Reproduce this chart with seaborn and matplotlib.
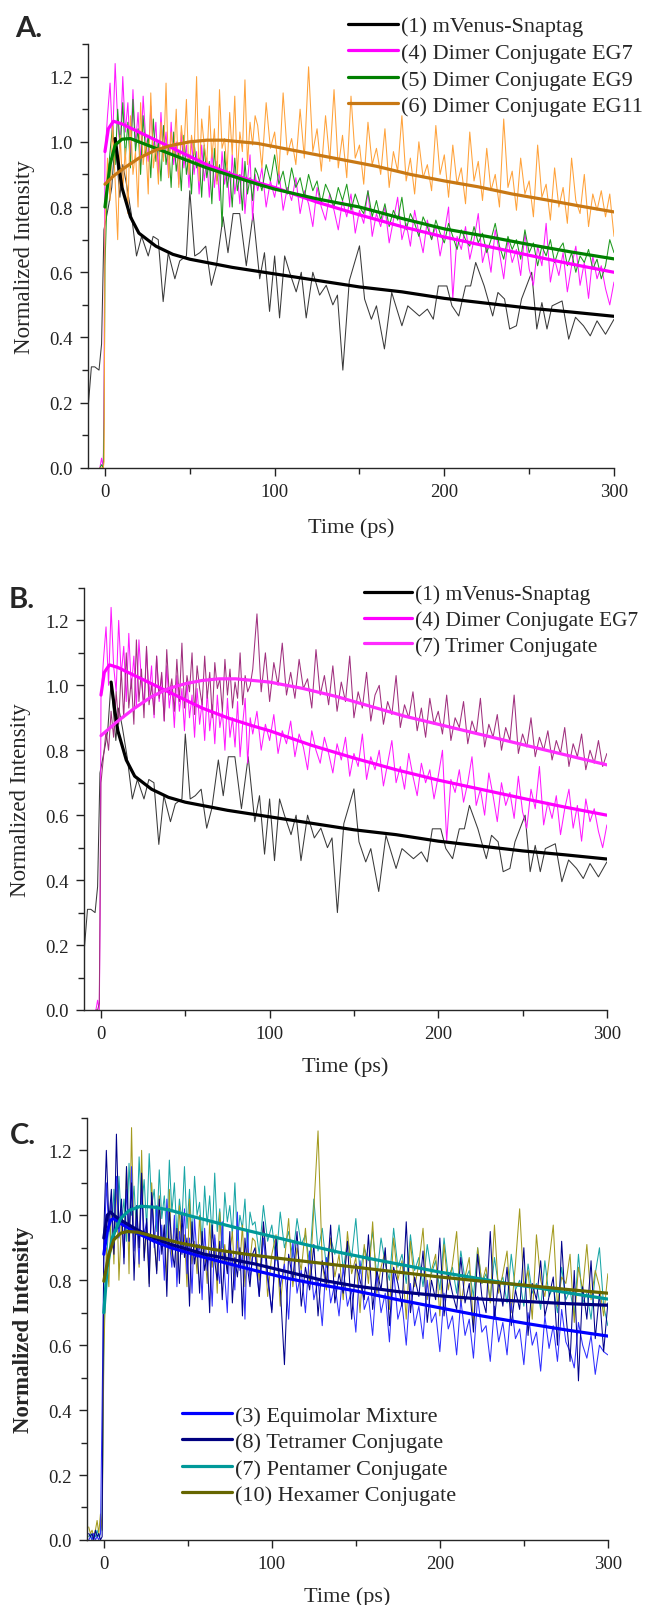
import numpy as np
import matplotlib
matplotlib.use("Agg")
import matplotlib.pyplot as plt
import seaborn as sns
from matplotlib.ticker import MultipleLocator

# ---------------- data ----------------
# raw traces: a few points before t=0, then a fine block (1.5 ps steps from 0)
# and a coarse block (2.5 ps steps from 90 ps)

# (1) mVenus-Snaptag, coarse sampling
blk_t = [-10, -8, -6, -3.5, -2, -0.6, 2, 4, 6, 8.8, 10.5, 12.7, 15.5, 18.6, 21.6, 25.5,
         28.4, 31.4, 34.3, 37.3, 41.2, 44.1, 48, 50, 52.9, 55.9, 59.4, 62.7, 65.7, 69.6,
         72.5, 75.5, 79.4, 83.3, 87.3, 91.2, 94, 97, 100, 102.9, 105.9, 108.8, 112.7,
         115.7, 118.6, 122.5, 126.5, 130.4, 134.3, 137, 140.2, 144, 150, 153, 157, 160,
         164.7, 169, 175, 178.5, 185.3, 190, 193.5, 196.5, 201.5, 204.5, 208.5, 212.5,
         215.5, 218.5, 223.5, 228.5, 231.6, 235.5, 238.5, 242.5, 245.5, 251.5, 254.5,
         257.5, 260.5, 263.5, 269.4, 273.3, 277.3, 282, 286, 290, 295, 300]
blk_v = [0.18, 0.31, 0.31, 0.30, 0.38, 0.73, 0.80, 0.86, 1.01, 0.83, 0.93, 0.87, 0.78, 0.65,
         0.71, 0.65, 0.71, 0.70, 0.51, 0.66, 0.58, 0.635, 0.65, 0.85, 0.65, 0.66, 0.68, 0.56,
         0.62, 0.77, 0.66, 0.78, 0.78, 0.62, 0.78, 0.58, 0.66, 0.48, 0.65, 0.46, 0.65, 0.60,
         0.54, 0.60, 0.46, 0.60, 0.53, 0.56, 0.50, 0.53, 0.30, 0.574, 0.681, 0.518, 0.456,
         0.497, 0.365, 0.538, 0.436, 0.497, 0.466, 0.487, 0.456, 0.558, 0.558, 0.497, 0.466,
         0.558, 0.558, 0.63, 0.558, 0.466, 0.538, 0.518, 0.426, 0.436, 0.518, 0.60, 0.426,
         0.507, 0.426, 0.497, 0.512, 0.395, 0.462, 0.436, 0.405, 0.451, 0.41, 0.456]

pre_t_a = [-3, -2, -1, -0.5]
mag_pre = [0.0, 0.03, 0.0, 0.29]
mag_d = [0.96, 1.08, 1.18, 1.00, 1.24, 1.06, 0.98, 1.20, 1.03, 1.12,
         0.95, 1.16, 0.99, 1.09, 0.93, 1.14, 1.01, 0.94, 1.11, 0.97,
         1.06, 0.90, 1.09, 0.95, 1.03, 0.89, 1.06, 0.93, 1.00, 0.87,
         1.03, 0.92, 0.99, 0.86, 1.01, 0.90, 0.97, 0.84, 0.99, 0.88,
         0.95, 0.83, 0.98, 0.86, 0.94, 0.82, 0.97, 0.87, 0.92, 0.80,
         0.96, 0.84, 0.90, 0.81, 0.95, 0.78, 0.88, 0.96, 0.76, 0.90]
mag_s = [0.85, 0.92, 0.80, 0.88, 0.83, 0.91, 0.79, 0.86, 0.82, 0.89,
         0.78, 0.85, 0.81, 0.74, 0.86, 0.80, 0.76, 0.84, 0.79, 0.73,
         0.82, 0.77, 0.84, 0.72, 0.79, 0.75, 0.85, 0.71, 0.78, 0.74,
         0.80, 0.69, 0.76, 0.83, 0.70, 0.75, 0.68, 0.79, 0.72, 0.66,
         0.76, 0.70, 0.74, 0.65, 0.72, 0.80, 0.52, 0.71, 0.67, 0.74,
         0.64, 0.70, 0.78, 0.63, 0.68, 0.60, 0.73, 0.66, 0.58, 0.70,
         0.63, 0.67, 0.59, 0.72, 0.61, 0.56, 0.68, 0.62, 0.75, 0.57,
         0.64, 0.59, 0.66, 0.54, 0.62, 0.68, 0.56, 0.63, 0.52, 0.65,
         0.58, 0.62, 0.55, 0.50, 0.57]

grn_pre = [0.0, 0.01, 0.0, 0.15]
grn_d = [0.62, 0.88, 0.97, 1.05, 0.93, 1.10, 0.98, 1.12, 0.95, 1.06,
         0.92, 1.13, 0.97, 1.04, 0.90, 1.08, 0.96, 1.02, 0.89, 1.07,
         0.94, 1.00, 0.88, 1.05, 0.93, 0.99, 0.86, 1.03, 0.91, 0.97,
         0.85, 1.02, 0.90, 0.96, 0.84, 1.00, 0.92, 0.95, 0.83, 0.99,
         0.89, 0.94, 0.81, 0.98, 0.88, 0.93, 0.74, 0.97, 0.86, 0.91,
         0.80, 0.95, 0.85, 0.90, 0.79, 0.94, 0.84, 0.89, 0.82, 0.92]
grn_s = [0.90, 0.85, 0.93, 0.88, 0.96, 0.87, 0.91, 0.84, 0.92, 0.86,
         0.89, 0.83, 0.90, 0.85, 0.88, 0.81, 0.87, 0.84, 0.80, 0.86,
         0.82, 0.87, 0.79, 0.84, 0.80, 0.78, 0.85, 0.77, 0.82, 0.76,
         0.81, 0.74, 0.79, 0.76, 0.83, 0.73, 0.78, 0.75, 0.71, 0.77,
         0.74, 0.70, 0.76, 0.72, 0.69, 0.75, 0.71, 0.67, 0.73, 0.70,
         0.68, 0.74, 0.69, 0.72, 0.66, 0.70, 0.75, 0.68, 0.64, 0.71,
         0.67, 0.70, 0.64, 0.73, 0.66, 0.69, 0.62, 0.68, 0.65, 0.70,
         0.63, 0.67, 0.69, 0.62, 0.66, 0.60, 0.65, 0.63, 0.67, 0.61,
         0.64, 0.58, 0.62, 0.70, 0.66]

org_pre = [0.0, 0.0, 0.0, 0.02]
org_d = [0.74, 0.95, 0.82, 1.05, 0.88, 0.70, 1.02, 0.85, 0.98, 0.78,
         1.08, 0.90, 0.97, 0.80, 1.12, 0.93, 1.00, 0.84, 1.15, 0.92,
         0.99, 0.87, 1.06, 0.94, 1.18, 0.89, 1.03, 0.95, 1.10, 0.86,
         1.05, 0.97, 1.13, 0.90, 1.02, 0.96, 1.20, 0.88, 1.07, 0.99,
         0.93, 1.11, 0.95, 1.04, 0.87, 1.16, 0.98, 1.01, 0.91, 1.09,
         0.96, 1.14, 0.90, 1.03, 0.97, 1.19, 0.93, 1.06, 0.99, 1.08]
org_s = [1.05, 0.92, 1.12, 0.98, 1.03, 0.90, 1.15, 0.96, 1.01, 0.93,
         1.10, 0.95, 1.23, 0.97, 1.04, 0.91, 1.08, 0.94, 1.16, 0.92,
         1.02, 0.89, 1.14, 0.95, 0.99, 0.87, 1.06, 0.93, 0.98, 0.90,
         1.04, 0.86, 0.97, 0.91, 1.08, 0.88, 0.95, 0.84, 1.00, 0.89,
         0.93, 0.85, 1.05, 0.90, 0.96, 0.83, 0.99, 0.87, 0.92, 0.81,
         1.03, 0.88, 0.94, 0.82, 0.98, 0.85, 0.90, 0.80, 1.07, 0.86,
         0.91, 0.79, 0.95, 0.84, 0.88, 0.77, 0.99, 0.83, 0.87, 0.76,
         0.92, 0.80, 0.86, 0.75, 0.95, 0.82, 0.78, 0.90, 0.74, 0.84,
         0.79, 0.85, 0.77, 0.84, 0.71]

tri_pre = [0.0, 0.0, 0.02, 0.35]
tri_d = [0.70, 0.78, 0.86, 0.80, 0.92, 0.84, 0.98, 0.88, 1.05, 0.90,
         1.10, 0.93, 1.02, 0.88, 1.14, 0.95, 1.05, 0.90, 1.12, 0.94,
         1.00, 0.91, 1.09, 0.96, 1.04, 0.89, 1.11, 0.97, 1.02, 0.92,
         1.08, 0.95, 1.13, 0.93, 1.03, 0.98, 1.10, 0.91, 1.06, 0.99,
         0.94, 1.09, 0.96, 1.04, 0.90, 1.07, 0.99, 1.02, 0.92, 1.08,
         0.97, 1.05, 0.93, 1.01, 0.96, 1.10, 0.94, 1.03, 0.98, 1.00]
tri_s = [1.05, 1.22, 0.98, 1.10, 0.95, 1.07, 1.00, 1.13, 0.97, 1.04,
         0.96, 1.08, 0.99, 1.02, 0.93, 1.11, 0.97, 1.03, 0.94, 1.06,
         0.92, 1.01, 0.95, 1.09, 0.90, 0.98, 0.93, 1.04, 0.89, 0.97,
         1.00, 0.88, 0.95, 0.91, 1.03, 0.87, 0.94, 0.90, 0.98, 0.86,
         0.93, 0.84, 0.96, 0.88, 0.92, 0.85, 0.97, 0.83, 0.90, 0.87,
         0.95, 0.82, 0.89, 0.85, 0.96, 0.81, 0.88, 0.84, 0.91, 0.80,
         0.87, 0.83, 0.97, 0.79, 0.85, 0.81, 0.90, 0.78, 0.84, 0.80,
         0.86, 0.77, 0.83, 0.79, 0.87, 0.75, 0.82, 0.78, 0.85, 0.74,
         0.80, 0.76, 0.83, 0.75, 0.79]

pre_t_c = [-9, -8, -7, -6, -5, -4, -3, -2, -1]
blu_pre = [0.0, 0.01, 0.0, 0.02, 0.0, 0.01, 0.0, 0.02, 0.42]
blu_d = [0.86, 1.10, 0.95, 1.05, 0.90, 1.12, 0.93, 1.02, 0.87, 1.08,
         0.92, 1.15, 0.89, 1.00, 0.85, 1.09, 0.94, 0.98, 0.83, 1.06,
         0.90, 1.03, 0.86, 0.97, 0.80, 1.05, 0.92, 0.84, 1.00, 0.78,
         0.95, 0.88, 1.02, 0.82, 0.93, 0.76, 0.99, 0.87, 0.91, 0.74,
         0.96, 0.83, 0.89, 0.72, 0.94, 0.85, 0.79, 0.98, 0.81, 0.70,
         0.92, 0.86, 0.77, 1.01, 0.83, 0.88, 0.68, 0.95, 0.80, 0.87]
blu_s = [0.88, 0.75, 0.93, 0.80, 0.71, 0.90, 0.78, 0.85, 0.68, 0.92,
         0.76, 0.83, 0.70, 0.89, 0.74, 0.80, 0.66, 0.87, 0.73, 0.79,
         0.69, 0.84, 0.72, 0.77, 0.64, 0.86, 0.71, 0.75, 0.63, 0.82,
         0.70, 0.76, 0.61, 0.83, 0.68, 0.73, 0.60, 0.79, 0.66, 0.72,
         0.62, 0.80, 0.67, 0.70, 0.58, 0.76, 0.65, 0.69, 0.57, 0.74,
         0.63, 0.68, 0.56, 0.75, 0.64, 0.66, 0.55, 0.72, 0.61, 0.67,
         0.57, 0.73, 0.62, 0.65, 0.54, 0.70, 0.60, 0.64, 0.52, 0.69,
         0.59, 0.66, 0.55, 0.71, 0.61, 0.58, 0.53, 0.67, 0.60, 0.56,
         0.63, 0.51, 0.60, 0.58, 0.57]

nav_pre = [0.02, 0.01, 0.02, 0.0, 0.03, 0.01, 0.02, 0.0, 0.01]
nav_d = [0.95, 1.20, 0.98, 1.08, 0.88, 1.25, 0.96, 1.05, 0.85, 1.15,
         0.92, 1.10, 0.80, 1.03, 0.90, 1.13, 0.86, 0.99, 0.78, 1.07,
         0.93, 0.82, 1.05, 0.88, 0.97, 0.75, 1.02, 0.90, 0.84, 0.96,
         0.79, 1.00, 0.87, 0.93, 0.72, 0.98, 0.85, 0.91, 0.76, 0.95,
         0.83, 0.88, 0.70, 0.97, 0.86, 0.80, 0.92, 0.74, 0.89, 0.82,
         0.95, 0.73, 0.87, 0.81, 0.90, 0.69, 0.93, 0.84, 0.78, 0.88]
nav_s = [0.90, 0.75, 0.98, 0.82, 0.70, 0.93, 0.78, 0.54, 0.88, 0.80,
         0.95, 0.72, 0.84, 0.77, 0.91, 0.69, 0.86, 0.79, 0.97, 0.73,
         0.82, 0.76, 0.92, 0.68, 0.85, 0.80, 0.74, 0.94, 0.71, 0.83,
         0.77, 0.90, 0.66, 0.84, 0.79, 0.72, 0.98, 0.70, 0.81, 0.75,
         0.89, 0.67, 0.80, 0.74, 0.93, 0.69, 0.82, 0.76, 0.71, 0.87,
         0.73, 0.79, 0.64, 0.88, 0.75, 0.70, 0.95, 0.68, 0.80, 0.72,
         0.84, 0.66, 0.77, 0.71, 0.90, 0.63, 0.79, 0.74, 0.86, 0.69,
         0.75, 0.81, 0.60, 0.92, 0.70, 0.55, 0.83, 0.49, 0.78, 0.68,
         0.86, 0.62, 0.76, 0.58, 0.73]

tea_pre = [0.01, 0.02, 0.0, 0.02, 0.01, 0.03, 0.01, 0.02, 0.06]
tea_d = [0.62, 0.85, 0.98, 0.90, 1.08, 0.95, 1.12, 0.97, 1.05, 0.92,
         1.16, 1.00, 1.09, 0.94, 1.18, 1.02, 1.11, 0.96, 1.19, 1.03,
         1.08, 0.95, 1.14, 0.99, 1.06, 0.93, 1.17, 1.01, 1.10, 0.94,
         1.05, 0.98, 1.15, 0.96, 1.08, 0.92, 1.12, 1.00, 1.04, 0.91,
         1.09, 0.97, 1.06, 0.93, 1.13, 0.95, 1.02, 0.90, 1.07, 0.98,
         1.03, 0.94, 1.10, 0.92, 1.00, 0.96, 1.05, 0.89, 1.01, 0.97]
tea_s = [0.98, 0.88, 1.03, 0.92, 0.97, 0.86, 1.01, 0.90, 0.95, 0.87,
         0.99, 0.91, 0.94, 0.85, 1.05, 0.89, 0.96, 0.84, 0.93, 0.88,
         0.97, 0.83, 0.92, 0.87, 0.99, 0.82, 0.90, 0.86, 0.95, 0.81,
         0.93, 0.85, 0.80, 0.96, 0.84, 0.88, 0.79, 0.94, 0.83, 0.87,
         0.78, 0.91, 0.82, 0.86, 0.77, 0.93, 0.81, 0.84, 0.76, 0.89,
         0.80, 0.83, 0.75, 0.90, 0.79, 0.82, 0.74, 0.87, 0.78, 0.81,
         0.73, 0.88, 0.77, 0.80, 0.72, 0.85, 0.76, 0.79, 0.71, 0.86,
         0.75, 0.78, 0.70, 0.84, 0.74, 0.77, 0.69, 0.88, 0.73, 0.76,
         0.68, 0.82, 0.90, 0.72, 0.66]

olv_pre = [0.04, 0.02, 0.03, 0.01, 0.03, 0.06, 0.02, 0.08, 0.03]
olv_d = [0.56, 0.90, 0.78, 1.05, 0.85, 1.12, 0.80, 0.98, 0.88, 1.15,
         0.82, 1.27, 0.90, 1.02, 0.84, 1.20, 0.87, 0.96, 0.79, 1.10,
         0.92, 0.83, 1.06, 0.89, 0.97, 0.80, 1.08, 0.86, 0.99, 0.81,
         1.03, 0.88, 0.94, 0.78, 1.05, 0.85, 0.92, 0.82, 1.00, 0.87,
         0.90, 0.79, 0.98, 0.84, 0.93, 0.76, 1.01, 0.86, 0.91, 0.83,
         0.88, 0.95, 0.80, 0.92, 0.85, 0.97, 0.78, 0.90, 0.86, 0.93]
olv_s = [0.92, 0.80, 0.97, 0.75, 0.88, 0.94, 0.72, 0.86, 0.99, 0.78,
         0.90, 0.83, 0.96, 0.79, 1.02, 1.26, 0.85, 0.77, 0.93, 0.81,
         0.88, 0.74, 0.95, 0.82, 0.87, 0.70, 0.91, 0.79, 0.98, 0.76,
         0.84, 0.89, 0.71, 0.93, 0.80, 0.86, 0.68, 0.92, 0.78, 0.85,
         0.96, 0.74, 0.83, 0.88, 0.69, 0.91, 0.77, 0.85, 0.95, 0.72,
         0.81, 0.87, 0.66, 0.90, 0.79, 0.84, 0.73, 0.97, 0.76, 0.82,
         0.89, 0.70, 0.85, 1.02, 0.78, 0.83, 0.68, 0.94, 0.80, 0.75,
         0.86, 0.97, 0.72, 0.81, 0.79, 0.88, 0.67, 0.84, 0.77, 0.91,
         0.74, 0.83, 0.78, 0.69, 0.82]

# fitted curves
fit1_t = [6, 8, 10, 15, 20, 30, 40, 50, 75, 100, 125, 150, 175, 200, 225, 250, 275, 300]
fit1_v = [1.01, 0.93, 0.86, 0.77, 0.72, 0.68, 0.655, 0.64, 0.615, 0.595, 0.575, 0.555,
          0.54, 0.52, 0.505, 0.49, 0.478, 0.465]
fit4_t = [0, 2, 5, 10, 20, 30, 40, 50, 60, 75, 90, 100, 125, 150, 175, 200, 225, 250, 275, 300]
fit4_v = [0.97, 1.04, 1.063, 1.055, 1.03, 1.005, 0.98, 0.955, 0.93, 0.90, 0.875, 0.86,
          0.815, 0.776, 0.74, 0.708, 0.68, 0.652, 0.625, 0.60]
fit5_t = [0, 3, 6, 10, 15, 20, 30, 40, 50, 60, 75, 90, 100, 125, 150, 175, 200, 225, 250, 275, 300]
fit5_v = [0.80, 0.93, 0.99, 1.008, 1.01, 1.0, 0.98, 0.96, 0.94, 0.92, 0.895, 0.87, 0.855,
          0.825, 0.80, 0.765, 0.733, 0.71, 0.685, 0.662, 0.641]
fit6_t = [0, 5, 10, 20, 30, 40, 50, 60, 70, 80, 90, 100, 120, 140, 160, 180, 200, 220, 240,
          260, 280, 300]
fit6_v = [0.87, 0.895, 0.915, 0.95, 0.975, 0.99, 1.0, 1.005, 1.005, 1.0, 0.995, 0.985,
          0.965, 0.945, 0.925, 0.90, 0.88, 0.862, 0.84, 0.822, 0.803, 0.785]
fit7_t = [0, 10, 20, 30, 40, 50, 60, 70, 80, 90, 100, 120, 140, 160, 180, 200, 220, 240,
          260, 280, 300]
fit7_v = [0.845, 0.89, 0.93, 0.965, 0.99, 1.005, 1.015, 1.02, 1.02, 1.015, 1.01, 0.99,
          0.965, 0.935, 0.905, 0.88, 0.855, 0.83, 0.805, 0.78, 0.755]
fit3_t = [0, 2, 4, 6, 10, 20, 30, 40, 50, 60, 75, 90, 110, 130, 150, 175, 200, 225, 250, 275, 300]
fit3_v = [0.88, 0.95, 0.985, 0.99, 0.975, 0.945, 0.92, 0.90, 0.885, 0.87, 0.85, 0.83,
          0.805, 0.785, 0.767, 0.74, 0.715, 0.69, 0.668, 0.647, 0.628]
fit8_t = [0, 2, 4, 6, 10, 20, 30, 40, 50, 60, 75, 90, 110, 130, 150, 175, 200, 225, 250, 275, 300]
fit8_v = [0.93, 1.0, 1.01, 1.0, 0.985, 0.955, 0.93, 0.91, 0.895, 0.88, 0.865, 0.85,
          0.825, 0.80, 0.782, 0.765, 0.752, 0.742, 0.735, 0.728, 0.723]
fitP_t = [0, 2, 5, 10, 15, 22, 30, 40, 50, 65, 80, 100, 120, 140, 160, 180, 200, 220, 240,
          260, 280, 300]
fitP_v = [0.70, 0.84, 0.93, 0.99, 1.015, 1.028, 1.025, 1.015, 1.0, 0.98, 0.96, 0.935,
          0.91, 0.886, 0.865, 0.845, 0.825, 0.808, 0.79, 0.775, 0.758, 0.742]
fit10_t = [0, 3, 6, 10, 14, 20, 30, 45, 65, 85, 100, 125, 150, 175, 200, 225, 250, 275, 300]
fit10_v = [0.797, 0.88, 0.925, 0.945, 0.95, 0.948, 0.935, 0.915, 0.895, 0.88, 0.87, 0.855,
           0.84, 0.825, 0.81, 0.797, 0.785, 0.772, 0.76]


def trace(pre_t, pre_v, dense, sparse):
    t = list(pre_t) + list(1.5 * np.arange(len(dense))) + list(90 + 2.5 * np.arange(len(sparse)))
    v = list(pre_v) + list(dense) + list(sparse)
    return np.array(t), np.array(v)


sns.set_theme(style="ticks")
plt.rcParams["font.family"] = ["Liberation Serif", "DejaVu Serif"]
plt.rcParams["axes.linewidth"] = 1.0
plt.rcParams["xtick.major.size"] = 6
plt.rcParams["ytick.major.size"] = 6
plt.rcParams["xtick.minor.size"] = 4
plt.rcParams["ytick.minor.size"] = 4
plt.rcParams["xtick.color"] = "#222222"
plt.rcParams["ytick.color"] = "#222222"

fig = plt.figure(figsize=(6.47, 16.06), dpi=100)
axA = fig.add_axes([0.136, 0.708, 0.813, 0.264])
axB = fig.add_axes([0.130, 0.3705, 0.808, 0.2628])
axC = fig.add_axes([0.1345, 0.0405, 0.805, 0.2628])

RAW = 0.75
FIT = 2.3


def line(ax, t, v, color, lw, label=None):
    sns.lineplot(x=t, y=v, ax=ax, color=color, linewidth=lw, sort=False,
                 estimator=None, label=label, legend=False)


# ---- panel A ----
line(axA, blk_t, blk_v, "#3a3a3a", RAW)
line(axA, *trace(pre_t_a, mag_pre, mag_d, mag_s), "#ff1aff", RAW)
line(axA, *trace(pre_t_a, grn_pre, grn_d, grn_s), "#1f9a1f", RAW)
line(axA, *trace(pre_t_a, org_pre, org_d, org_s), "#ffa23a", RAW)
line(axA, fit1_t, fit1_v, "black", FIT, "(1) mVenus-Snaptag")
line(axA, fit4_t, fit4_v, "#ff00ff", FIT, "(4) Dimer Conjugate EG7")
line(axA, fit5_t, fit5_v, "#008000", FIT, "(5) Dimer Conjugate EG9")
line(axA, fit6_t, fit6_v, "#c87814", FIT, "(6) Dimer Conjugate EG11")

# ---- panel B ----
line(axB, blk_t, blk_v, "#3a3a3a", RAW)
line(axB, *trace(pre_t_a, mag_pre, mag_d, mag_s), "#ff1aff", RAW)
line(axB, *trace(pre_t_a, tri_pre, tri_d, tri_s), "#a0307f", RAW)
line(axB, fit1_t, fit1_v, "black", FIT, "(1) mVenus-Snaptag")
line(axB, fit4_t, fit4_v, "#ff00ff", FIT, "(4) Dimer Conjugate EG7")
line(axB, fit7_t, fit7_v, "#ff2bff", FIT, "(7) Trimer Conjugate")

# ---- panel C ----
line(axC, *trace(pre_t_c, tea_pre, tea_d, tea_s), "#1aa6a6", RAW)
line(axC, *trace(pre_t_c, olv_pre, olv_d, olv_s), "#a39a1e", RAW)
line(axC, *trace(pre_t_c, blu_pre, blu_d, blu_s), "#2f2fff", RAW)
line(axC, *trace(pre_t_c, nav_pre, nav_d, nav_s), "#00008b", RAW)
line(axC, fit3_t, fit3_v, "#0000ff", FIT, "(3) Equimolar Mixture")
line(axC, fit8_t, fit8_v, "#000080", FIT, "(8) Tetramer Conjugate")
line(axC, fitP_t, fitP_v, "#009999", FIT, "(7) Pentamer Conjugate")
line(axC, fit10_t, fit10_v, "#666600", FIT, "(10) Hexamer Conjugate")

for ax, bold, xpad in [(axA, False, 12), (axB, False, 10), (axC, True, 10)]:
    ax.set_xlim(-10, 300)
    ax.set_ylim(0, 1.3)
    ax.set_yticks([0, 0.2, 0.4, 0.6, 0.8, 1.0, 1.2])
    ax.set_yticklabels(["0.0", "0.2", "0.4", "0.6", "0.8", "1.0", "1.2"])
    ax.set_xticks([0, 100, 200, 300])
    ax.xaxis.set_minor_locator(MultipleLocator(50))
    ax.yaxis.set_minor_locator(MultipleLocator(0.1))
    ax.tick_params(axis="both", which="both", labelsize=13.5, pad=5, width=1.0)
    sns.despine(ax=ax)
    ax.set_xlabel("Time (ps)", fontsize=16, labelpad=xpad)
    ax.set_ylabel("Normalized Intensity", fontsize=16.5, labelpad=10,
                  fontweight="bold" if bold else "normal")

leg_kw = dict(loc="upper left", bbox_transform=fig.transFigure, frameon=False,
              borderpad=0, borderaxespad=0, handlelength=2.25, handletextpad=0.14,
              labelspacing=0.27)
axA.legend(bbox_to_anchor=(0.538, 0.9895), fontsize=16, **leg_kw)
axB.legend(bbox_to_anchor=(0.5626, 0.6355), fontsize=15.4, **leg_kw)
axC.legend(bbox_to_anchor=(0.2813, 0.1245), fontsize=16, **leg_kw)

for txt, x, y in [("A.", 0.045, 0.982), ("B.", 0.033, 0.6264), ("C.", 0.036, 0.2927)]:
    fig.text(x, y, txt, fontsize=21, fontweight="bold", family="Lato",
             ha="center", va="center")

fig.savefig("out.png", dpi=100)
